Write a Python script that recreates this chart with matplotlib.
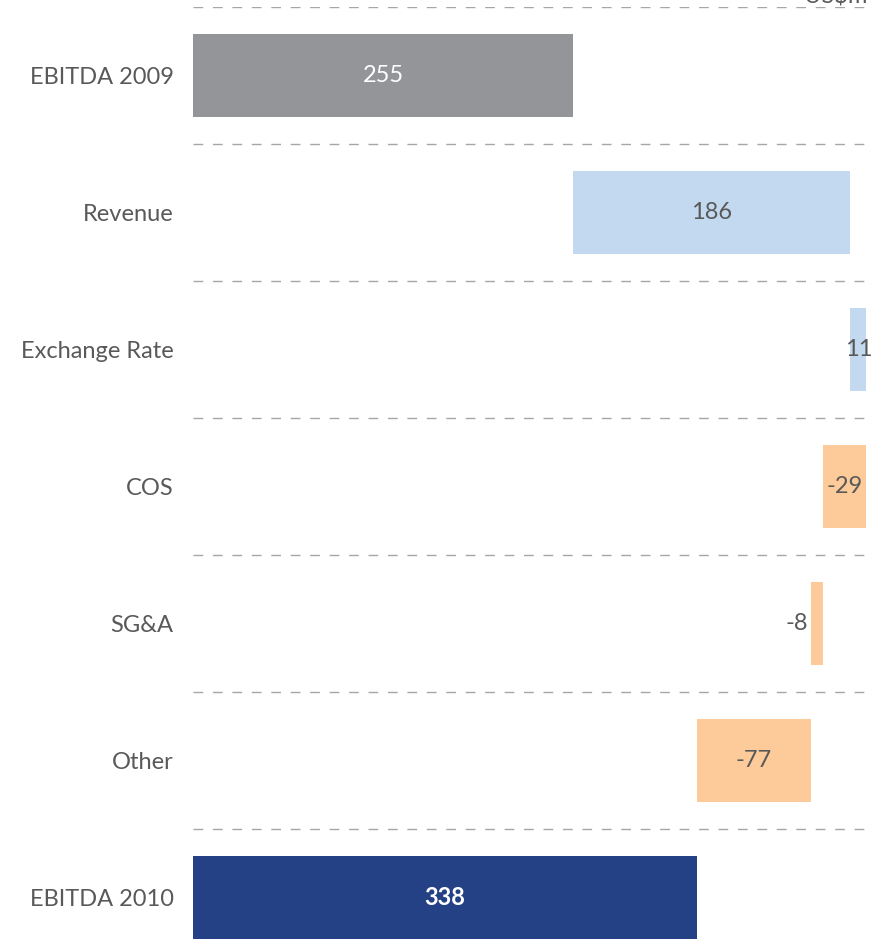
import matplotlib.pyplot as plt
import numpy as np

plt.rcParams['font.family'] = ['Lato', 'DejaVu Sans']

categories = ['EBITDA 2009', 'Revenue', 'Exchange Rate', 'COS', 'SG&A', 'Other', 'EBITDA 2010']
values = [255, 186, 11, -29, -8, -77, 338]
kinds = ['total', 'up', 'up', 'down', 'down', 'down', 'total']

GREY = '#939598'
BLUE = '#C3D9EF'
ORANGE = '#FDCA99'
NAVY = '#244185'
TEXT = '#595959'

fig = plt.figure(figsize=(8.81, 9.52), dpi=100)
ax = fig.add_axes([193 / 881, 0, (870 - 193) / 881, 1 - 7 / 952])

# waterfall bottoms
lefts = []
running = 0
for v, k in zip(values, kinds):
    if k == 'total':
        lefts.append(0)
        running = v
    else:
        if v >= 0:
            lefts.append(running)
        else:
            lefts.append(running + v)
        running += v

colors = []
for i, k in enumerate(kinds):
    if k == 'total':
        colors.append(GREY if i == 0 else NAVY)
    elif k == 'up':
        colors.append(BLUE)
    else:
        colors.append(ORANGE)

y = np.arange(len(categories))
ax.barh(y, [abs(v) for v in values], left=lefts, height=0.6, color=colors)

for i, (v, l, k) in enumerate(zip(values, lefts, kinds)):
    cx = l + abs(v) / 2
    if k == 'total':
        ax.text(cx, i, str(v), ha='center', va='center', color='white',
                fontsize=17, fontweight='bold' if i == len(values) - 1 else 'normal')
    elif abs(v) < 10:
        ax.text(l - 2, i, str(v), ha='right', va='center', color=TEXT, fontsize=17)
    else:
        ax.text(cx, i, str(v), ha='center', va='center', color=TEXT, fontsize=17)

# dashed separators
for s in np.arange(-0.5, len(categories) - 0.5, 1.0):
    ax.axhline(s, color='#A6A6A6', lw=1, ls=(0, (7, 7)))

ax.set_xlim(0, (870 - 193) / 1.49)
ax.set_ylim(-0.5 + 945 / 137, -0.5)
ax.set_yticks(y)
ax.set_yticklabels(categories, fontsize=17, color=TEXT)
ax.tick_params(axis='y', length=0, pad=14)
ax.set_xticks([])
for sp in ax.spines.values():
    sp.set_visible(False)

fig.text(0.985, 1.004, 'US$m', ha='right', va='center', fontsize=17, color=TEXT)

fig.savefig('out.png', dpi=100)
